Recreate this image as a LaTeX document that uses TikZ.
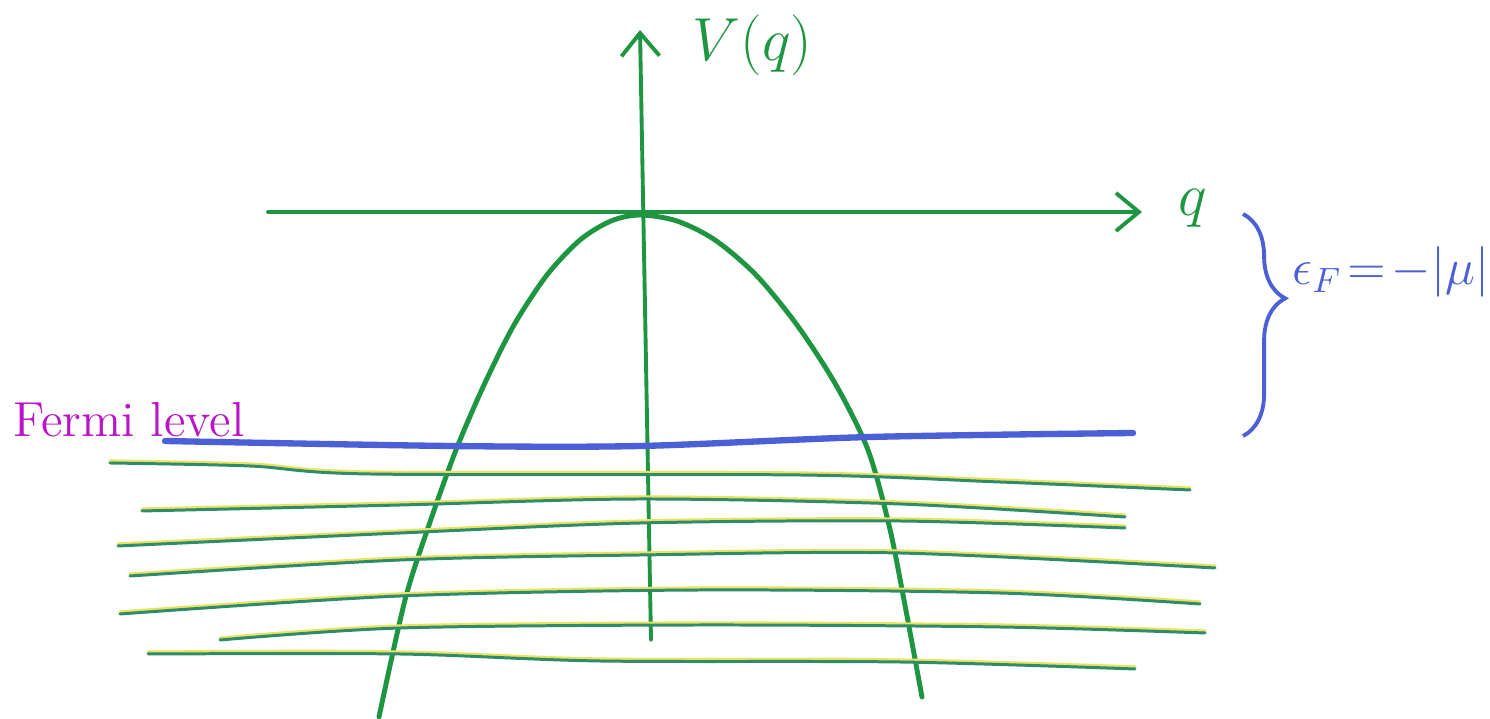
\documentclass[tikz,border=0pt]{standalone}
\usetikzlibrary{arrows.meta,decorations.pathreplacing}
\definecolor{axgreen}{RGB}{30,150,65}
\definecolor{lvlblue}{RGB}{75,95,215}
\definecolor{magen}{RGB}{185,20,200}
\definecolor{seateal}{RGB}{45,140,110}
\definecolor{fringe}{RGB}{235,225,90}
\begin{document}
\begin{tikzpicture}[x=0.01cm,y=-0.01cm,
  axis/.style={draw=axgreen,line width=1.1pt,line cap=round,-{Straight Barb[length=2.3mm,width=3.8mm]}},
  band/.style={draw=axgreen,line width=1.4pt,line cap=round},
  fermi/.style={draw=lvlblue,line width=1.8pt,line cap=round},
  seaunder/.style={draw=fringe,line width=0.9pt,line cap=round,yshift=0.02cm},
  sealine/.style={draw=seateal,line width=0.85pt,line cap=round},
  lbl/.style={inner sep=0pt}]
\useasboundingbox (0,0) rectangle (1490,719);
\fill[white] (0,0) rectangle (1490,719);

% axes
\coordinate (yb) at (651,640);
\coordinate (yt) at (640,30);
\coordinate (xl) at (268,212);
\coordinate (xr) at (1142,212);
\draw[axis] (yb) -- (yt);
\draw[axis] (xl) -- (xr);
\node[lbl,anchor=west,text=axgreen,font=\fontsize{16}{19}\selectfont] (vlab) at (692,45) {$V(q)$};
\node[lbl,anchor=west,text=axgreen,font=\fontsize{19}{22}\selectfont] (qlab) at (1178,208) {$q$};

% parabola
\draw[band] plot[smooth,tension=0.5] coordinates {(379,717) (405,600) (429,525) (456,450) (484,385) (514,325) (547,275) (580,240) (611,221) (640,215) (677,221) (715,240) (756,275) (797,325) (836,385) (868,450) (889,525) (904,600) (922,697)};

% fermi level
\draw[fermi] plot[smooth] coordinates {(165,441) (450,446) (640,446) (870,437) (1133,433)};
\node[lbl,anchor=base west,text=magen,font=\fontsize{14}{16}\selectfont] (flab) at (13,437) {Fermi level};

% brace and label
\coordinate (bt) at (1243,214);
\coordinate (bb) at (1243,436);
\draw[draw=lvlblue,line width=1.1pt,decorate,decoration={brace,amplitude=12pt,aspect=0.38}] (bt) -- (bb);
\node[lbl,anchor=west,text=lvlblue,font=\fontsize{14}{17}\selectfont] (elab) at (1292,272) {$\epsilon_{F}\!=\!-|\mu|$};

% filled sea lines
\foreach \pts in {
  {(110,463) (250,466) (370,474) (800,475) (1000,482) (1190,490)},
  {(142,511) (400,505) (640,499) (900,504) (1125,517)},
  {(118,546) (400,533) (640,523) (900,521) (1125,528)},
  {(130,576) (400,560) (640,555) (900,553) (1215,568)},
  {(120,614) (400,596) (700,590) (1000,593) (1200,604)},
  {(220,640) (400,628) (700,625) (1000,627) (1205,633)},
  {(148,654) (400,654) (600,661) (900,662) (1135,669)}}
{
  \draw[seaunder] plot[smooth] coordinates \pts;
  \draw[sealine] plot[smooth] coordinates \pts;
}
\end{tikzpicture}
\end{document}
